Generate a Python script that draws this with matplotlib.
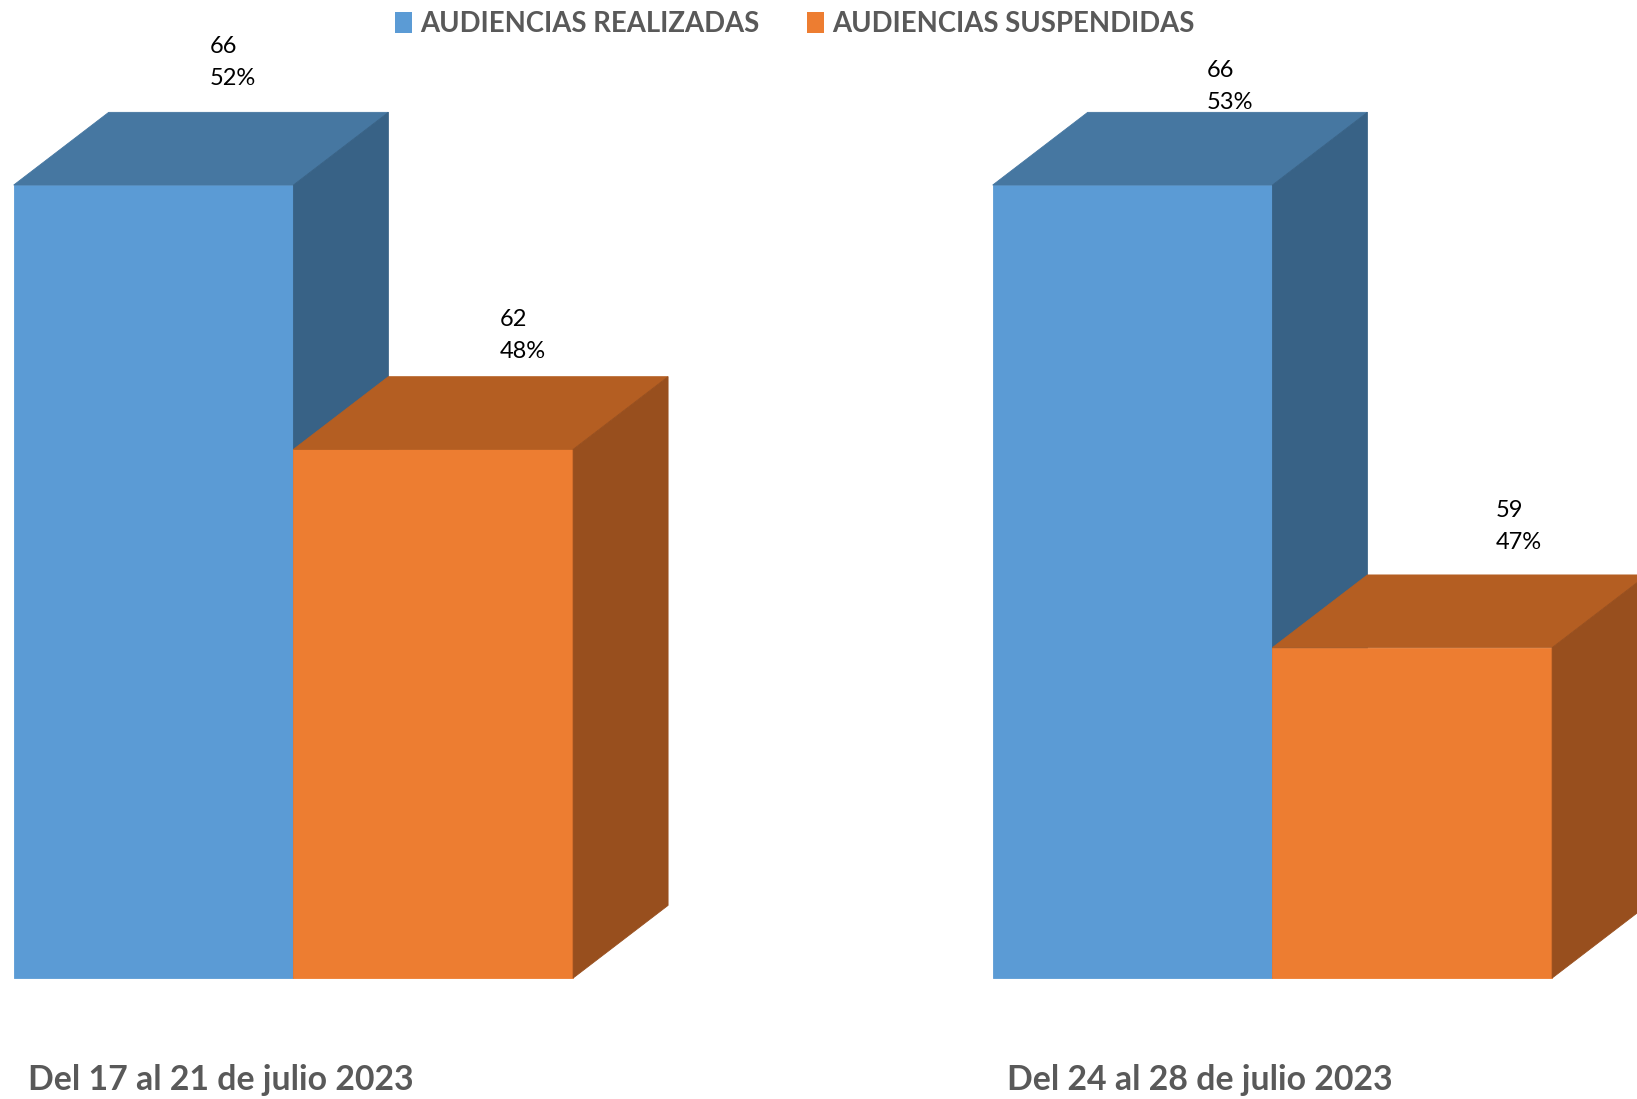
import matplotlib.pyplot as plt
from matplotlib.patches import Polygon, Patch

periods = ['Del 17 al 21 de julio 2023', 'Del 24 al 28 de julio 2023']
series = ['AUDIENCIAS REALIZADAS', 'AUDIENCIAS SUSPENDIDAS']
realizadas = [66, 66]
suspendidas = [62, 59]
pct_realizadas = ['52%', '53%']
pct_suspendidas = ['48%', '47%']

plt.rcParams['font.family'] = ['Lato', 'DejaVu Sans']

front = ['#5B9BD5', '#ED7D31']
top = ['#4677A1', '#B45E22']
side = ['#386286', '#984F1E']
gray = '#595959'

base = 54          # axis minimum of the original chart
w = 0.2857         # bar width (group spacing = 1)
dx, dy = 0.097, 1.10   # 3d depth

fig = plt.figure(figsize=(16.37, 10.99), dpi=100)
ax = fig.add_axes([0, 0, 1, 1])
ax.set_xlim(-0.2997, 1.3724)
ax.set_ylim(52.17, 68.80)
ax.axis('off')

# label offsets (pixels) from the top-left of each bar's back edge
lab_off = [[(196, 50), (206, 41), (0, 0)], [(214, 26), (223, 48)]]

for i, p in enumerate(periods):
    vals = [realizadas[i], suspendidas[i]]
    pcts = [pct_realizadas[i], pct_suspendidas[i]]
    for j in range(2):
        left = i - w + j * w
        right = left + w
        v = vals[j]
        ax.bar(left, v - base, width=w, bottom=base, align='edge',
               color=front[j], edgecolor=front[j], linewidth=0.6, zorder=2 + j)
        ax.add_patch(Polygon([(left, v), (left + dx, v + dy), (right + dx, v + dy), (right, v)],
                             closed=True, facecolor=top[j], edgecolor=top[j], linewidth=0.6, zorder=2 + j))
        ax.add_patch(Polygon([(right, base), (right + dx, base + dy), (right + dx, v + dy), (right, v)],
                             closed=True, facecolor=side[j], edgecolor=side[j], linewidth=0.6, zorder=2 + j))
        ox, oy = lab_off[i][j]
        ax.annotate(f'{v}\n{pcts[j]}', xy=(left, v + dy), xytext=(ox, oy),
                    textcoords='offset pixels', ha='left', va='center',
                    fontsize=17, color='black', linespacing=1.65, zorder=5)
    ax.annotate(p, xy=(i - w, 0), xycoords=('data', 'axes fraction'),
                xytext=(14, 9), textcoords='offset pixels', ha='left', va='baseline',
                fontsize=24.4, fontweight='bold', color=gray)

handles = [Patch(facecolor=front[0], label=series[0]), Patch(facecolor=front[1], label=series[1])]
fig.legend(handles=handles, loc='upper center', bbox_to_anchor=(0.4855, 1.005), ncol=2,
           frameon=False, prop={'size': 19.8, 'weight': 'bold'}, labelcolor=gray,
           handlelength=0.6, handleheight=0.8, handletextpad=0.3, columnspacing=1.75,
           borderaxespad=0.2)

fig.savefig('out.png', dpi=100)
